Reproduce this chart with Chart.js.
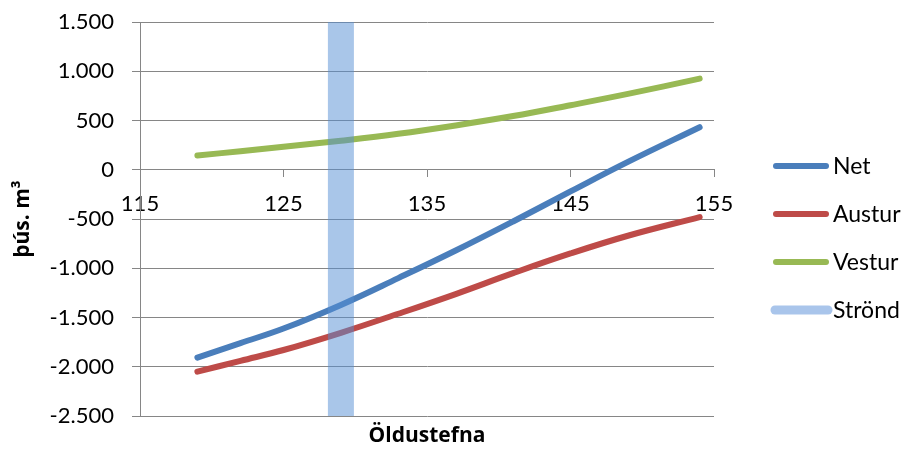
<!DOCTYPE html>
<html>
<head>
<meta charset="utf-8">
<script src="https://cdn.jsdelivr.net/npm/chart.js@4"></script>
<style>
  html, body { margin: 0; padding: 0; background: #ffffff; }
  #wrap { width: 908px; height: 449px; }
</style>
</head>
<body>
<div id="wrap"><canvas id="c" width="908" height="449"></canvas></div>
<script>
// Wave direction (degrees) and volume (thousand m3)
const oldustefna = [119, 122, 125, 129, 133, 137, 141, 145, 149, 154];
const net        = [-1907, -1760, -1612, -1372, -1100, -820, -525, -220, 80, 432];
const austur     = [-2050, -1940, -1830, -1655, -1462, -1262, -1050, -850, -670, -480];
const vestur     = [145, 188, 233, 295, 365, 450, 545, 655, 770, 925];

// Shoreline direction band
const strondX = [129, 129];
const strondY = [-2500, 1500];

const seriesNames = ['Net', 'Austur', 'Vestur', 'Strönd'];
const xTicks = [115, 125, 135, 145, 155];
const yTicks = [-2500, -2000, -1500, -1000, -500, 0, 500, 1000, 1500];

const FONT = 'Lato, "Liberation Sans", sans-serif';
const TITLE_FONT = '"Open Sans", Lato, sans-serif';
const GRID = '#868686';

function pts(xs, ys) { return xs.map((x, i) => ({ x: x, y: ys[i] })); }
function fmt(v) {
  const s = String(Math.abs(v)).replace(/\B(?=(\d{3})+(?!\d))/g, '.');
  return (v < 0 ? '-' : '') + s;
}

// Legend drawn at the right of the plot
const sideLegend = {
  id: 'sideLegend',
  afterDraw(chart) {
    const ctx = chart.ctx;
    const rows = chart.data.datasets;
    ctx.save();
    ctx.font = '23px ' + FONT;
    ctx.textBaseline = 'middle';
    ctx.textAlign = 'left';
    rows.forEach((ds, i) => {
      const y = 166 + i * 48;
      ctx.beginPath();
      ctx.lineCap = 'round';
      ctx.strokeStyle = ds.legendColor || ds.borderColor;
      ctx.lineWidth = ds.legendWidth || 6;
      ctx.moveTo(ds.legendWidth ? 775 : 776, y);
      ctx.lineTo(ds.legendWidth ? 828 : 826, y);
      ctx.stroke();
      ctx.fillStyle = '#000000';
      ctx.fillText(ds.label, 833, y + 1);
    });
    ctx.restore();
  }
};

const lineStyle = {
  borderWidth: 6,
  borderCapStyle: 'round',
  borderJoinStyle: 'round',
  pointRadius: 0,
  tension: 0.4,
  fill: false,
  order: 1
};

new Chart(document.getElementById('c'), {
  type: 'line',
  data: {
    datasets: [
      Object.assign({ label: seriesNames[0], data: pts(oldustefna, net), borderColor: '#4A7EBB' }, lineStyle),
      Object.assign({ label: seriesNames[1], data: pts(oldustefna, austur), borderColor: '#BE4B48' }, lineStyle),
      Object.assign({ label: seriesNames[2], data: pts(oldustefna, vestur), borderColor: '#98B954' }, lineStyle),
      {
        label: seriesNames[3],
        data: pts(strondX, strondY),
        borderColor: 'rgba(84,141,212,0.5)',
        legendColor: '#A9C5EB',
        legendWidth: 9,
        borderWidth: 26,
        borderCapStyle: 'butt',
        pointRadius: 0,
        fill: false,
        order: 0
      }
    ]
  },
  plugins: [sideLegend],
  options: {
    responsive: false,
    animation: false,
    devicePixelRatio: 1,
    layout: { padding: { left: 0, right: 194, top: 22, bottom: 0 } },
    plugins: { legend: { display: false }, tooltip: { enabled: false } },
    scales: {
      x: {
        type: 'linear',
        position: { y: 0 },
        min: 115, max: 155,
        afterBuildTicks: (s) => { s.ticks = xTicks.map(v => ({ value: v })); },
        ticks: { font: { family: FONT, size: 22 }, color: '#000000', padding: 14, maxRotation: 0 },
        grid: { drawOnChartArea: false, drawTicks: true, tickLength: 7, color: GRID },
        border: { display: true, color: GRID, width: 1 }
      },
      x2: {
        type: 'linear',
        position: 'bottom',
        min: 115, max: 155,
        ticks: { display: false },
        grid: { display: false, drawTicks: false },
        border: { display: false },
        title: { display: true, text: 'Öldustefna', color: '#000000',
                 font: { family: TITLE_FONT, size: 21, weight: 'bold' }, padding: { top: 0, bottom: 0 } },
        afterFit: (s) => { s.height = 33; }
      },
      y: {
        type: 'linear',
        position: 'left',
        min: -2500, max: 1500,
        afterBuildTicks: (s) => { s.ticks = yTicks.map(v => ({ value: v })); },
        ticks: { font: { family: FONT, size: 22 }, color: '#000000', padding: 18, callback: (v) => fmt(v) },
        grid: { color: GRID, tickLength: 8, drawTicks: true },
        border: { display: true, color: GRID, width: 1 },
        title: { display: true, text: 'þús. m³', color: '#000000',
                 font: { family: TITLE_FONT, size: 21, weight: 'bold' }, padding: { top: 10, bottom: 0 } },
        afterFit: (s) => { s.width = 140; s.paddingTop = 0; s.paddingBottom = 0; }
      }
    }
  }
});
</script>
</body>
</html>
